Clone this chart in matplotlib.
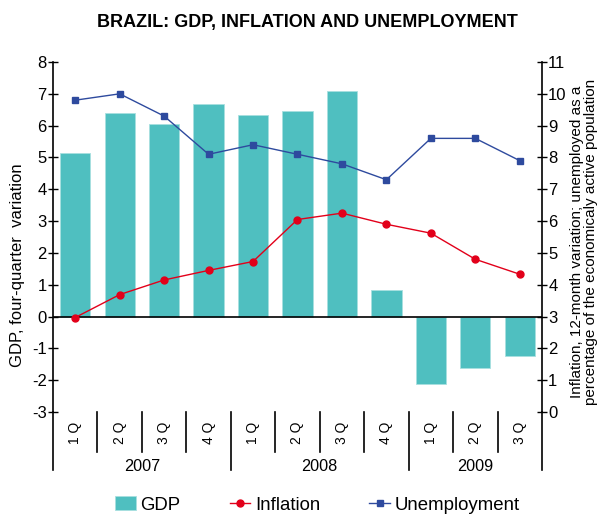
import matplotlib
matplotlib.use('Agg')
import matplotlib.pyplot as plt

plt.rcParams['font.family'] = ['Liberation Sans', 'DejaVu Sans']
plt.rcParams['axes.unicode_minus'] = False

quarters = ['1 Q', '2 Q', '3 Q', '4 Q', '1 Q', '2 Q', '3 Q', '4 Q', '1 Q', '2 Q', '3 Q']
years = ['2007', '2008', '2009']
year_centers = [1.5, 5.5, 9.0]
gdp = [5.15, 6.4, 6.05, 6.68, 6.33, 6.45, 7.1, 0.83, -2.12, -1.62, -1.25]
inflation = [2.97, 3.69, 4.15, 4.45, 4.73, 6.05, 6.25, 5.9, 5.62, 4.8, 4.33]
unemployment = [9.8, 10.0, 9.3, 8.1, 8.4, 8.1, 7.8, 7.3, 8.6, 8.6, 7.9]

x = list(range(len(quarters)))

fig = plt.figure(figsize=(6.01, 5.15), dpi=100)
ax = fig.add_axes([0.0882, 0.2, 0.8136, 0.6796])
ax2 = ax.twinx()

ax.bar(x, gdp, width=0.68, color='#4fbfc0', edgecolor='#a8e0e0', linewidth=0.6, label='GDP', zorder=2)
ax.axhline(0, color='black', linewidth=1.2, zorder=3)
ax2.plot(x, inflation, color='#e2001a', marker='o', markersize=5, linewidth=1, label='Inflation')
ax2.plot(x, unemployment, color='#2e4a9e', marker='s', markersize=5, linewidth=1, label='Unemployment')

ax.set_xlim(-0.5, 10.5)
ax.set_ylim(-3, 8)
ax2.set_ylim(0, 11)
ax.set_yticks(range(-3, 9))
ax2.set_yticks(range(0, 12))
ax.set_xticks([])

for a in (ax, ax2):
    a.spines['top'].set_visible(False)
    a.spines['bottom'].set_visible(False)
    a.tick_params(axis='y', direction='inout', length=7, width=1, labelsize=12, pad=1)
ax.spines['left'].set_linewidth(1.2)
ax2.spines['right'].set_linewidth(1.2)
ax.spines['right'].set_visible(False)
ax2.spines['left'].set_visible(False)
ax2.set_zorder(ax.get_zorder() + 1)
ax2.patch.set_visible(False)

ax.set_ylabel('GDP, four-quarter  variation', fontsize=12)
ax.yaxis.set_label_coords(-0.057, 0.42)
ax2.set_ylabel('Inflation, 12-month variation; unemployed as a\npercentage of the economicaly active population',
               fontsize=11, linespacing=1.05)
ax2.yaxis.set_label_coords(1.057, 0.486)

# category axis drawn by hand below the plot
trans = ax.get_xaxis_transform()
for i, q in enumerate(quarters):
    ax.text(i, -0.06, q, rotation=90, ha='center', va='center', fontsize=10, transform=trans)
for b in [0.5, 1.5, 2.5, 4.5, 5.5, 6.5, 8.5, 9.5]:
    ax.plot([b, b], [0, -0.114], color='black', linewidth=1.2, transform=trans, clip_on=False)
for b in [-0.5, 3.5, 7.5, 10.5]:
    ax.plot([b, b], [0, -0.166], color='black', linewidth=1.2, transform=trans, clip_on=False)
for c, yr in zip(year_centers, years):
    ax.text(c, -0.157, yr, ha='center', va='center', fontsize=11.7, transform=trans)

fig.text(0.511, 0.957, 'BRAZIL: GDP, INFLATION AND UNEMPLOYMENT', fontsize=13, fontweight='bold',
         ha='center', va='center')

h1, l1 = ax.get_legend_handles_labels()
h2, l2 = ax2.get_legend_handles_labels()
fig.legend(h1 + h2, l1 + l2, loc='center', ncol=3, frameon=False, fontsize=13.4,
           bbox_to_anchor=(0.528, 0.0194), handlelength=1.1, columnspacing=2.65, handletextpad=0.25,
           borderpad=0, borderaxespad=0)

fig.savefig('out.png', dpi=100)
